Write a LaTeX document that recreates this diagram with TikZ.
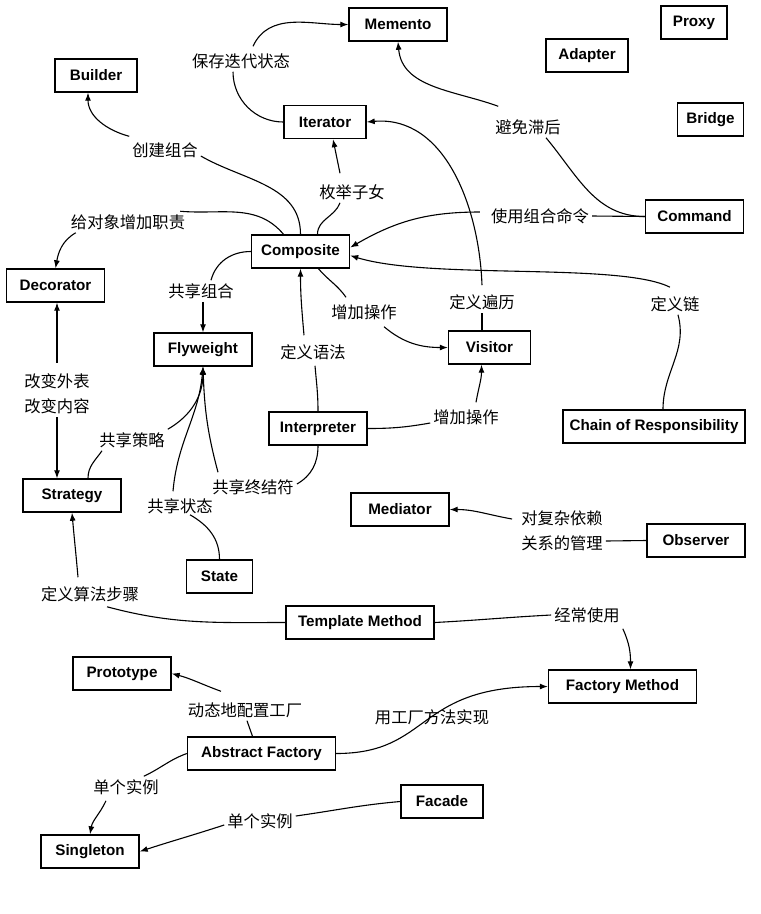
\documentclass[tikz,border=0pt]{standalone}
\usepackage{fontspec}
\setmainfont{Liberation Sans}
\newfontfamily\cjk{Noto Sans CJK SC}
\usepackage{tikz}
\usetikzlibrary{arrows.meta}
\tikzset{
  patnode/.style={rectangle, draw=black, line width=1.4pt, fill=white,
                  inner sep=0pt, minimum height=33pt,
                  font=\fontsize{15.2}{16}\selectfont\bfseries},
  tinynode/.style={patnode, minimum width=66pt},
  smallnode/.style={patnode, minimum width=82pt},
  basenode/.style={patnode, minimum width=98pt},
  widenode/.style={patnode, minimum width=148pt},
  chainnode/.style={patnode, minimum width=182pt},
  relnode/.style={inner sep=3pt, align=center,
                  font=\cjk\fontsize{16.3}{25}\selectfont},
  link/.style={line width=1.1pt, color=black},
  arrow/.style={link, -{Latex[length=8pt,width=6pt]}}
}

\begin{document}
\begin{tikzpicture}[x=1pt, y=1pt]
  \useasboundingbox (0,0) rectangle (761,-914);

  % Patterns
  \node[basenode]  (memento)     at (398,-24.5)   {Memento};
  \node[tinynode]  (proxy)       at (694,-22.5)   {Proxy};
  \node[smallnode] (adapter)     at (587,-55.5)   {Adapter};
  \node[smallnode] (builder)     at (96,-75.5)    {Builder};
  \node[tinynode]  (bridge)      at (710.5,-119.5) {Bridge};
  \node[smallnode] (iterator)    at (325,-122)    {Iterator};
  \node[basenode]  (command)     at (694.5,-216.5) {Command};
  \node[basenode]  (composite)   at (300.5,-251.5) {Composite};
  \node[basenode]  (decorator)   at (55.5,-285.5) {Decorator};
  \node[basenode]  (flyweight)   at (203,-349.5)  {Flyweight};
  \node[smallnode] (visitor)     at (489.5,-347.5) {Visitor};
  \node[basenode]  (interpreter) at (318,-428.5)  {Interpreter};
  \node[chainnode] (chain)       at (654,-426.5)  {Chain of Responsibility};
  \node[basenode]  (strategy)    at (72,-495.5)   {Strategy};
  \node[basenode]  (mediator)    at (400,-509.5)  {Mediator};
  \node[basenode]  (observer)    at (696,-540.5)  {Observer};
  \node[tinynode]  (state)       at (219.5,-576.5) {State};
  \node[widenode]  (template)    at (360,-622.5)  {Template Method};
  \node[basenode]  (prototype)   at (122,-673.5)  {Prototype};
  \node[widenode]  (factory)     at (622.5,-686.5) {Factory Method};
  \node[widenode]  (abstract)    at (261.5,-753.5) {Abstract Factory};
  \node[smallnode] (facade)      at (442,-801.5)  {Facade};
  \node[basenode]  (singleton)   at (90,-851.5)   {Singleton};

  % Relation labels
  \node[relnode] (lSave)    at (241,-61)  {保存迭代状态};
  \node[relnode] (lBuild)   at (165,-150) {创建组合};
  \node[relnode] (lEnum)    at (352,-192) {枚举子女};
  \node[relnode] (lResp)    at (128,-222) {给对象增加职责};
  \node[relnode] (lLag)     at (528,-127) {避免滞后};
  \node[relnode] (lCmd)     at (540,-216) {使用组合命令};
  \node[relnode] (lChain)   at (675,-304) {定义链};
  \node[relnode] (lTrav)    at (482,-302) {定义遍历};
  \node[relnode] (lOpA)     at (364,-312) {增加操作};
  \node[relnode] (lGram)    at (313,-352) {定义语法};
  \node[relnode] (lOpB)     at (466,-417) {增加操作};
  \node[relnode] (lShComp)  at (201,-291) {共享组合};
  \node[relnode] (lSkin)    at (57,-394)  {改变外表\\改变内容};
  \node[relnode] (lShStrat) at (132,-440) {共享策略};
  \node[relnode] (lShState) at (180,-506) {共享状态};
  \node[relnode] (lShTerm)  at (253,-487) {共享终结符};
  \node[relnode] (lAlgo)    at (90,-594)  {定义算法步骤};
  \node[relnode] (lOften)   at (587,-615) {经常使用};
  \node[relnode] (lConf)    at (245,-710) {动态地配置工厂};
  \node[relnode] (lImpl)    at (432,-717) {用工厂方法实现};
  \node[relnode] (lOneA)    at (126,-787) {单个实例};
  \node[relnode] (lOneB)    at (260,-821) {单个实例};
  \node[relnode] (lDep)     at (562,-531) {对复杂依赖\\关系的管理};

  % Upper part
  \draw[link] (iterator.west) to[out=180,in=-90] ([xshift=-8pt]lSave.south);
  \draw[arrow] ([xshift=12pt,yshift=4pt]lSave.north) to[out=65,in=180] (memento.west);
  \draw[link] (composite.north) to[out=90,in=-30] ([yshift=-6pt]lBuild.east);
  \draw[arrow] ([yshift=3pt]lBuild.north west) to[out=165,in=-90] ([xshift=-8pt]builder.south);
  \draw[link] ([xshift=17pt]composite.north) to[out=90,in=-110] ([xshift=-12pt]lEnum.south);
  \draw[arrow] ([xshift=-12pt,yshift=8pt]lEnum.north) -- ([xshift=8pt]iterator.south);
  \draw[link] ([xshift=-17pt]composite.north) to[out=130,in=-5] ([xshift=-8pt]lResp.north east);
  \draw[arrow] ([xshift=8pt]lResp.south west) to[out=210,in=80] (decorator.north);
  \draw[link] (command.west) to[out=180,in=-50] ([xshift=18pt]lLag.south);
  \draw[arrow] ([xshift=6pt,yshift=10pt]lLag.north west) to[out=160,in=-85] (memento.south);
  \draw[link] (command.west) -- (lCmd.east);
  \draw[arrow] ([xshift=-8pt,yshift=4pt]lCmd.west) to[out=180,in=30] ([yshift=4pt]composite.east);
  \draw[link] ([xshift=9pt]chain.north) to[out=90,in=-75] ([xshift=3pt]lChain.south);
  \draw[arrow] ([xshift=-5pt,yshift=6pt]lChain.north) .. controls (620,-262) and (430,-280) .. ([yshift=-4pt]composite.east);
  \draw[link] ([xshift=-7.5pt]visitor.north) -- (lTrav.south);
  \draw[arrow] ([yshift=6pt]lTrav.north) to[out=92,in=5] (iterator.east);
  \draw[link] ([xshift=18pt]composite.south) to[out=-50,in=125] ([xshift=-18pt,yshift=4pt]lOpA.north);
  \draw[arrow] ([xshift=20pt,yshift=-4pt]lOpA.south) to[out=-40,in=180] (visitor.west);
  \draw[link] (interpreter.north) to[out=90,in=-85] ([xshift=2pt,yshift=-3pt]lGram.south);
  \draw[arrow] ([xshift=-9pt,yshift=6pt]lGram.north) to[out=95,in=-90] (composite.south);
  \draw[link] (interpreter.east) to[out=0,in=190] ([yshift=-6pt]lOpB.west);
  \draw[arrow] ([xshift=10pt,yshift=4pt]lOpB.north) to[out=80,in=-90] ([xshift=-8pt]visitor.south);

  % Middle part
  \draw[link] (composite.west) to[out=180,in=75] ([xshift=10pt]lShComp.north);
  \draw[arrow] ([xshift=2pt]lShComp.south) -- (flyweight.north);
  \draw[arrow] ([yshift=8pt]lSkin.north) -- ([xshift=1.5pt]decorator.south);
  \draw[arrow] (lSkin.south) -- ([xshift=-15pt]strategy.north);
  \draw[link] ([xshift=16pt]strategy.north) to[out=90,in=-125] ([xshift=-30pt]lShStrat.south);
  \draw[arrow] (lShStrat.north east) to[out=30,in=-90] (flyweight.south);
  \draw[link] (state.north) to[out=90,in=-30] ([xshift=10pt,yshift=2pt]lShState.south);
  \draw[arrow] ([xshift=-7pt,yshift=4pt]lShState.north) to[out=85,in=-95] (flyweight.south);
  \draw[link] (interpreter.south) to[out=-90,in=30] ([yshift=3pt]lShTerm.east);
  \draw[arrow] ([xshift=-35pt,yshift=4pt]lShTerm.north) to[out=105,in=-88] (flyweight.south);
  \draw[link] (observer.west) -- ([yshift=-10pt]lDep.east);
  \draw[arrow] ([xshift=-6pt,yshift=12pt]lDep.west) to[out=170,in=0] (mediator.east);

  % Lower part
  \draw[link] (template.west) to[out=180,in=-15] ([xshift=17pt,yshift=-2pt]lAlgo.south);
  \draw[arrow] ([xshift=-12pt,yshift=6pt]lAlgo.north) to[out=95,in=-85] (strategy.south);
  \draw[link] (template.east) to[out=3,in=183] (lOften.west);
  \draw[arrow] ([yshift=-3pt]lOften.south east) to[out=-65,in=90] ([xshift=8pt]factory.north);
  \draw[link] ([xshift=-9pt]abstract.north) -- ([xshift=2pt]lConf.south);
  \draw[arrow] ([xshift=-24pt,yshift=8pt]lConf.north) to[out=160,in=-15] (prototype.east);
  \draw[arrow] (abstract.east) .. controls +(95,0) and +(-133,0) .. (factory.west);
  \draw[link] (abstract.west) to[out=200,in=25] ([xshift=-18pt]lOneA.north east);
  \draw[arrow] ([xshift=-20pt,yshift=-3pt]lOneA.south) to[out=-115,in=80] (singleton.north);
  \draw[link] (facade.west) to[out=185,in=8] ([yshift=5pt]lOneB.east);
  \draw[arrow] ([yshift=-4pt]lOneB.west) to[out=198,in=18] (singleton.east);

\end{tikzpicture}
\end{document}
